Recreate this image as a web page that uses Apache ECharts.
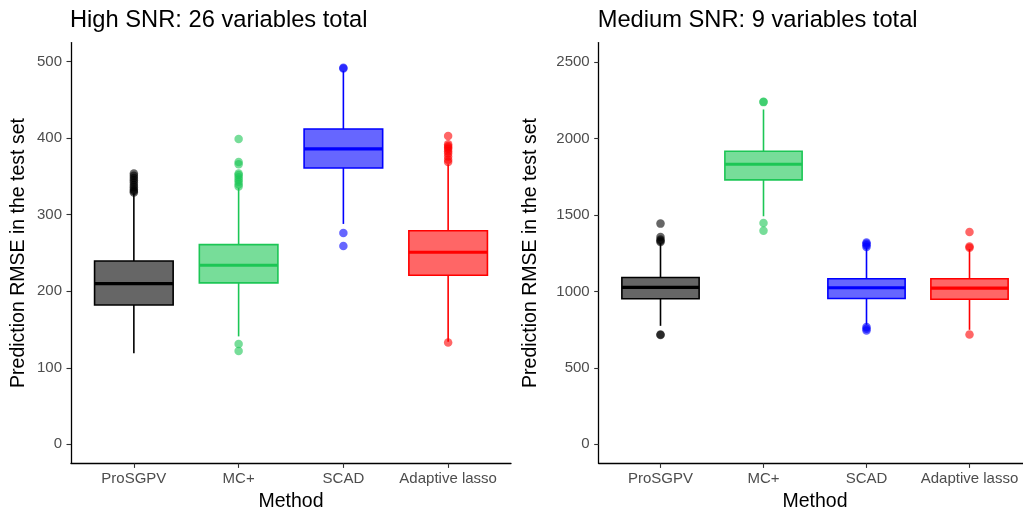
<!DOCTYPE html>
<html>
<head>
<meta charset="utf-8">
<script src="https://cdn.jsdelivr.net/npm/echarts@6/dist/echarts.min.js"></script>
<style>
html,body{margin:0;padding:0;background:#fff;}
#c{width:1023px;height:510px;}
</style>
</head>
<body>
<div id="c"></div>
<script>
// ---- data ----
const methods = ['ProSGPV', 'MC+', 'SCAD', 'Adaptive lasso'];
const methodColors = ['#000000', '#1CC655', '#0000FF', '#FF0000'];
const methodFills = ['rgba(0,0,0,0.6)', 'rgba(28,198,85,0.6)', 'rgba(0,0,255,0.6)', 'rgba(255,0,0,0.6)'];

const titles = ['High SNR: 26 variables total', 'Medium SNR: 9 variables total'];
const yTitle = 'Prediction RMSE in the test set';
const xTitle = 'Method';

// [lower whisker, Q1, median, Q3, upper whisker]
const highBoxes = [
  [119, 182, 210, 239.5, 328],
  [141, 211, 234, 261, 335],
  [288, 361, 386, 412, 488],
  [134, 221, 251, 279, 366]
];
const highOutliers = [
  [329, 331, 333, 336, 339, 342, 345, 348, 351, 354],
  [337, 340, 343, 346, 349, 352, 354, 366, 369, 399, 131, 122],
  [491, 492, 276, 259],
  [133, 369, 372, 376, 380, 383, 386, 388, 390, 392, 403]
];
const highTicks = [0, 100, 200, 300, 400, 500];

const medBoxes = [
  [774, 951, 1025, 1090, 1315],
  [1490, 1728, 1830, 1915, 2188],
  [781, 953, 1023, 1082, 1285],
  [748, 948, 1020, 1082, 1275]
];
const medOutliers = [
  [1322, 1330, 1338, 1355, 1442, 717, 714],
  [2236, 2238, 1446, 1396],
  [1290, 1300, 1310, 1318, 766, 755, 743],
  [1285, 1292, 1388, 717]
];
const medTicks = [0, 500, 1000, 1500, 2000, 2500];

// ---- layout ----
const FONT = 'Liberation Sans, Arial, sans-serif';
const panels = [
  {frameL: 71, frameR: 511, top: 42.6, bottom: 463.4, tickTop: 61.7, tickBot: 444.3,
   yMin: -25, yMax: 525, ticks: highTicks, boxes: highBoxes, outs: highOutliers, nameGap: 42},
  {frameL: 598.7, frameR: 1031.3, top: 42.6, bottom: 463.4, tickTop: 62.3, tickBot: 444.3,
   yMin: -125, yMax: 2625, ticks: medTicks, boxes: medBoxes, outs: medOutliers, nameGap: 58}
];

const grid = [], xAxis = [], yAxis = [], series = [], title = [];

function renderBox(params, api) {
  const i = api.value(0);
  const lo = api.coord([i, api.value(1)]);
  const q1 = api.coord([i, api.value(2)]);
  const md = api.coord([i, api.value(3)]);
  const q3 = api.coord([i, api.value(4)]);
  const hi = api.coord([i, api.value(5)]);
  const w = api.size([1, 0])[0] * 0.75;
  const cx = lo[0];
  const col = methodColors[i], fill = methodFills[i];
  return {
    type: 'group',
    children: [
      {type: 'line', shape: {x1: cx, y1: lo[1], x2: cx, y2: q1[1]}, style: {stroke: col, lineWidth: 1.6}},
      {type: 'line', shape: {x1: cx, y1: q3[1], x2: cx, y2: hi[1]}, style: {stroke: col, lineWidth: 1.6}},
      {type: 'rect', shape: {x: cx - w / 2, y: q3[1], width: w, height: q1[1] - q3[1]},
       style: {fill: fill, stroke: col, lineWidth: 1.6}},
      {type: 'line', shape: {x1: cx - w / 2, y1: md[1], x2: cx + w / 2, y2: md[1]}, style: {stroke: col, lineWidth: 3.2}}
    ]
  };
}

panels.forEach((p, k) => {
  const unit = (p.frameR - p.frameL) / 4.2;
  const dataL = p.frameL + 0.1 * unit;
  const dataW = 4 * unit;
  const h = p.bottom - p.top;
  const tMin = p.ticks[0], tMax = p.ticks[p.ticks.length - 1], tInt = p.ticks[1] - p.ticks[0];
  const gopts = {containLabel: false, outerBoundsMode: 'none'};
  grid.push(Object.assign({left: p.frameL, top: p.top, width: p.frameR - p.frameL, height: h}, gopts));
  grid.push(Object.assign({left: p.frameL, top: p.tickTop, width: p.frameR - p.frameL, height: p.tickBot - p.tickTop}, gopts));
  grid.push(Object.assign({left: dataL, top: p.top, width: dataW, height: h}, gopts));
  const g0 = k * 3;

  xAxis.push({gridIndex: g0, type: 'value', min: 0, max: 1,
    axisLine: {show: true, onZero: false, lineStyle: {color: '#000', width: 1.3}},
    axisTick: {show: false}, axisLabel: {show: false}, splitLine: {show: false}});
  yAxis.push({gridIndex: g0, type: 'value', min: p.yMin, max: p.yMax,
    axisLine: {show: true, onZero: false, lineStyle: {color: '#000', width: 1.3}},
    axisTick: {show: false}, axisLabel: {show: false}, splitLine: {show: false},
    name: yTitle, nameLocation: 'middle', nameGap: p.nameGap,
    nameTextStyle: {fontFamily: FONT, fontSize: 19.5, color: '#000'}});

  xAxis.push({gridIndex: g0 + 1, type: 'value', show: false, min: 0, max: 1});
  yAxis.push({gridIndex: g0 + 1, type: 'value', min: tMin, max: tMax, interval: tInt,
    axisLine: {show: false, onZero: false}, splitLine: {show: false},
    axisTick: {show: true, length: 4.5, lineStyle: {color: '#333', width: 1.1}},
    axisLabel: {show: true, color: '#4d4d4d', fontFamily: FONT, fontSize: 15, margin: 9,
      formatter: v => String(v)}});

  xAxis.push({gridIndex: g0 + 2, type: 'category', data: methods,
    axisLine: {show: false, onZero: false},
    axisTick: {show: true, alignWithLabel: true, interval: 0, length: 4.5, lineStyle: {color: '#333', width: 1.1}},
    axisLabel: {color: '#4d4d4d', fontFamily: FONT, fontSize: 15, margin: 8, interval: 0},
    name: xTitle, nameLocation: 'middle', nameGap: 27,
    nameTextStyle: {fontFamily: FONT, fontSize: 19.5, color: '#000'}});
  yAxis.push({gridIndex: g0 + 2, type: 'value', min: p.yMin, max: p.yMax, show: false});

  const outData = [];
  p.outs.forEach((arr, i) => arr.forEach(v => outData.push({value: [i, v], itemStyle: {color: methodColors[i]}})));
  series.push({type: 'scatter', xAxisIndex: g0 + 2, yAxisIndex: g0 + 2, data: outData,
    symbolSize: 8.5, itemStyle: {opacity: 0.6}, silent: true, z: 2});
  series.push({type: 'custom', xAxisIndex: g0 + 2, yAxisIndex: g0 + 2,
    data: p.boxes.map((b, i) => [i].concat(b)),
    encode: {x: 0, y: [1, 2, 3, 4, 5]},
    renderItem: renderBox, silent: true, z: 3});

  title.push({text: titles[k], left: p.frameL - 1, top: 8, padding: 0,
    textStyle: {fontFamily: FONT, fontSize: 23.7, fontWeight: 'normal', color: '#000'}});
});

const chart = echarts.init(document.getElementById('c'), null, {renderer: 'canvas'});
chart.setOption({
  animation: false,
  backgroundColor: '#fff',
  title: title,
  grid: grid,
  xAxis: xAxis,
  yAxis: yAxis,
  series: series
});
</script>
</body>
</html>
